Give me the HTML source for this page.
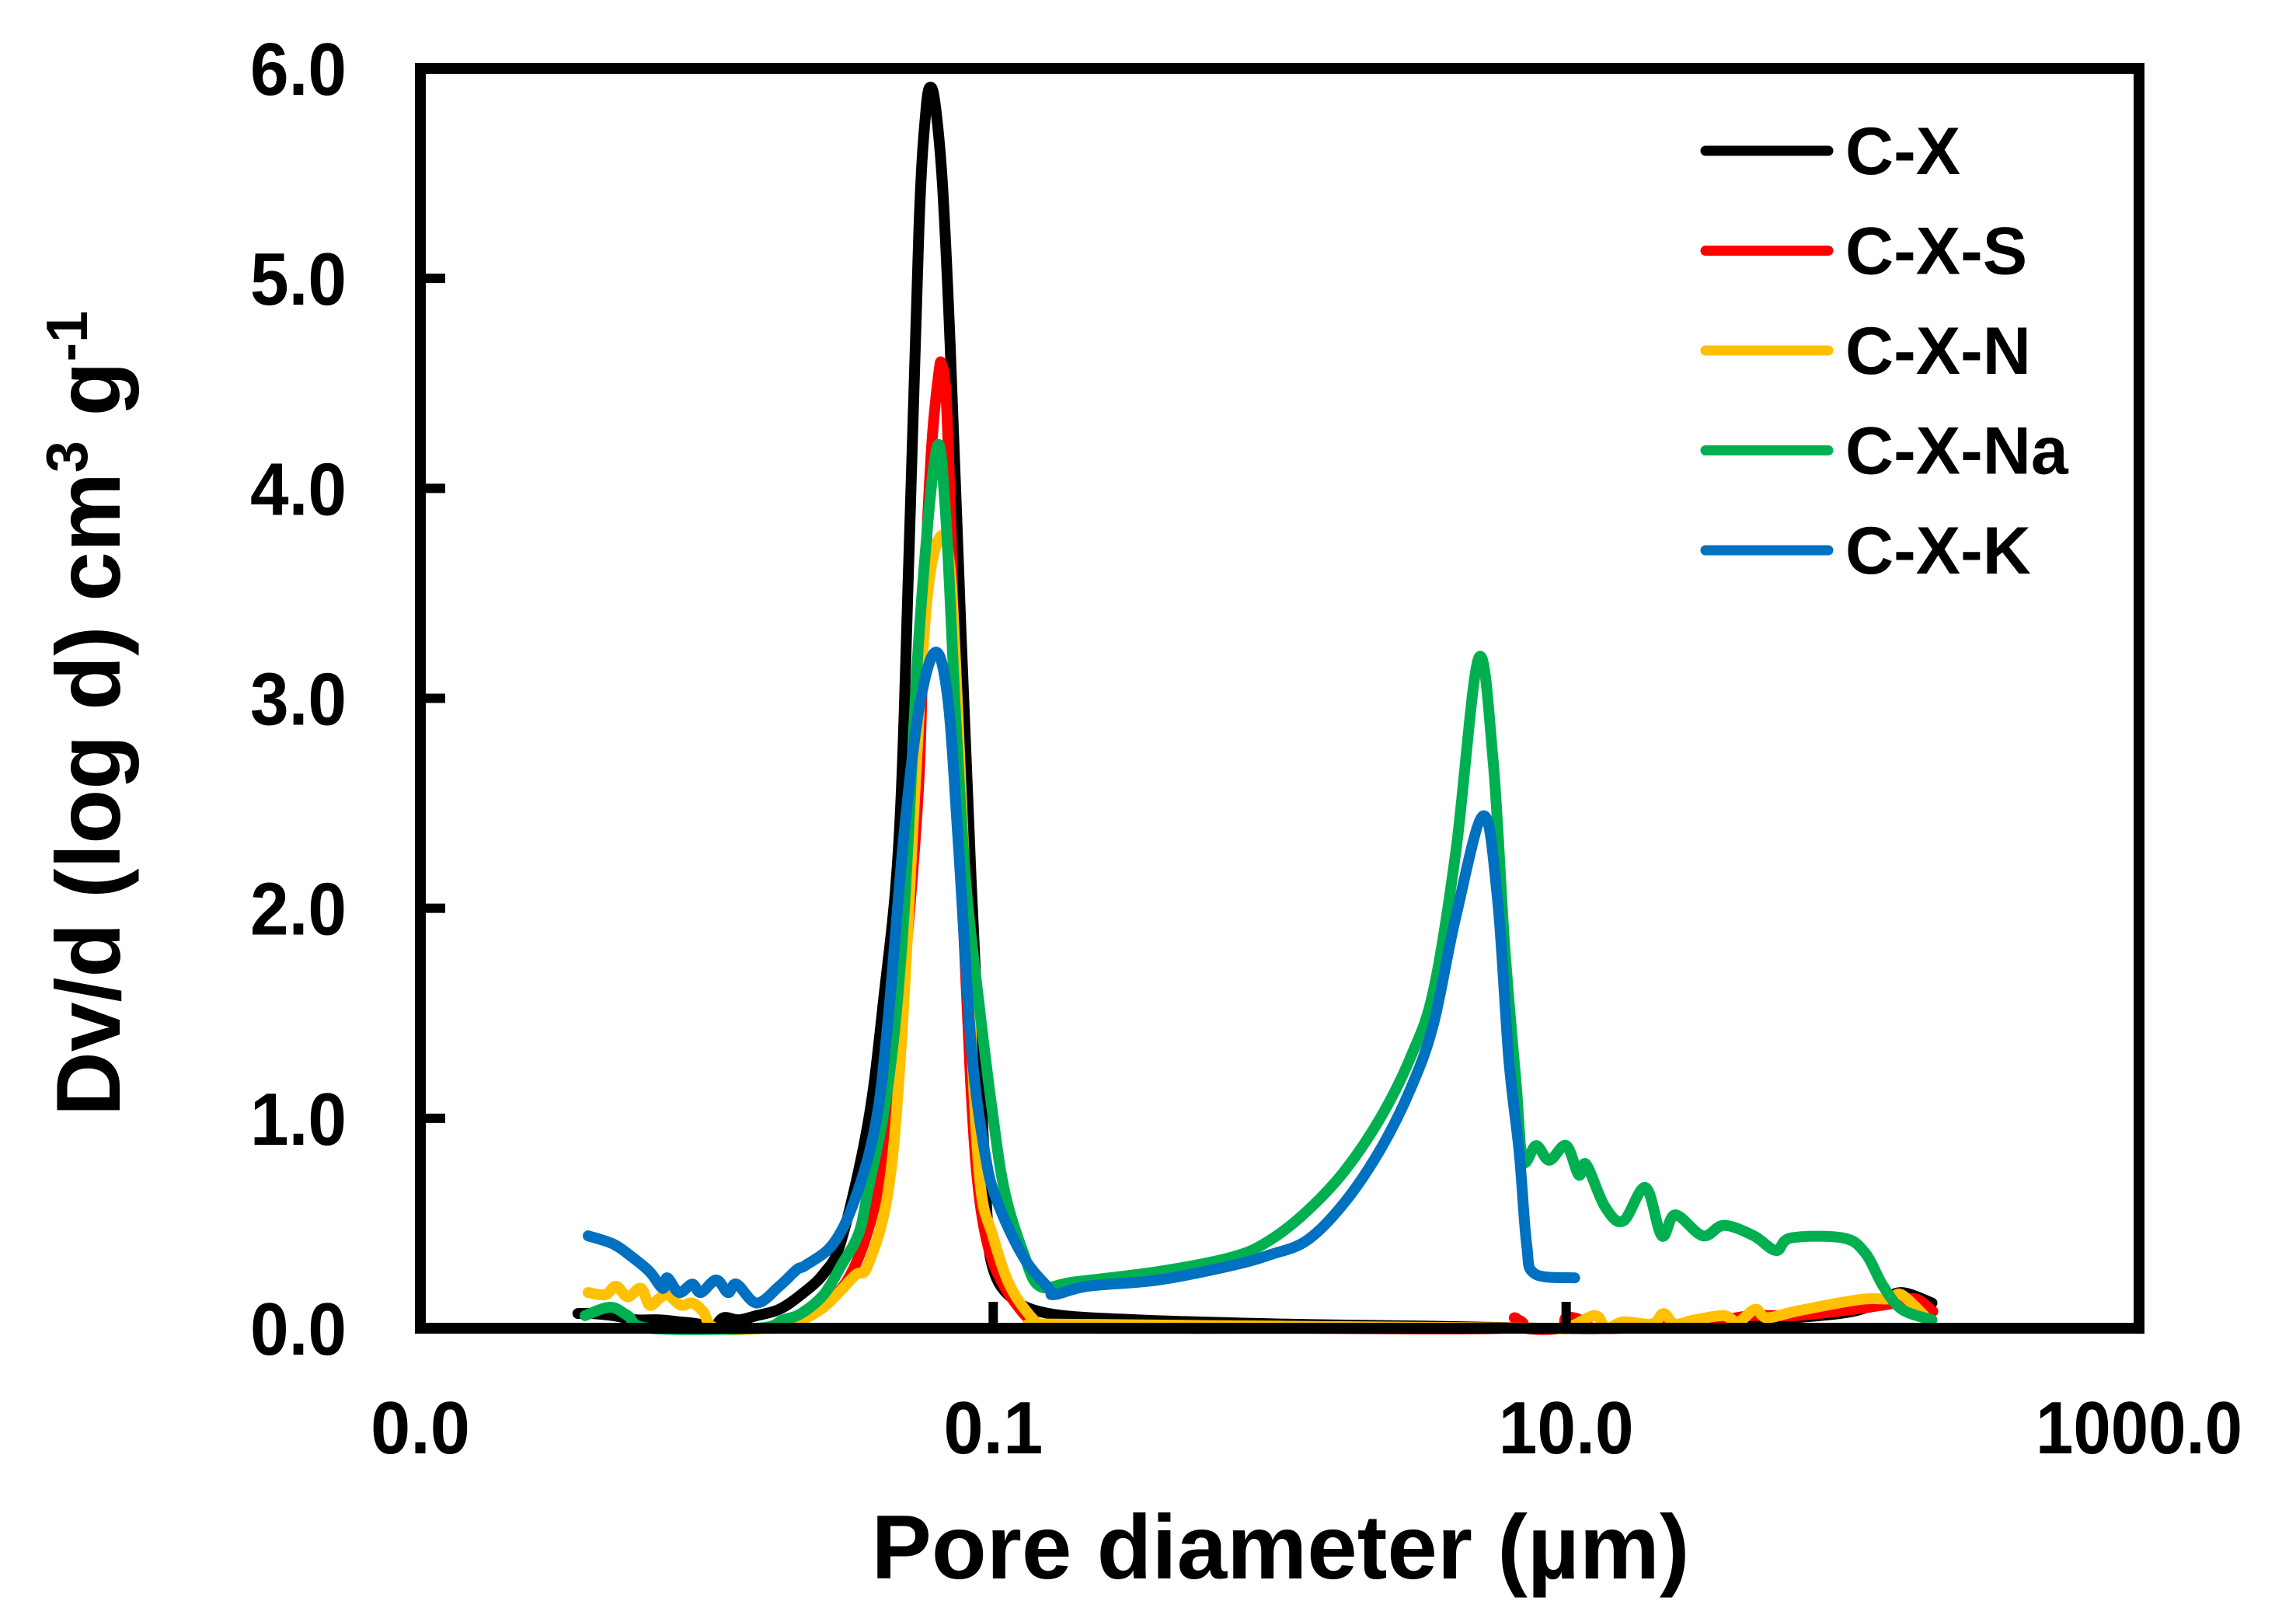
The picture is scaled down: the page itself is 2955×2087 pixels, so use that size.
<!DOCTYPE html>
<html><head><meta charset="utf-8"><style>
html,body{margin:0;padding:0;background:#fff;}
svg{display:block;font-family:"Liberation Sans",Arial,sans-serif;font-weight:bold;}
</style></head><body>
<svg id="chart" width="2955" height="2087" viewBox="0 0 2955 2087" xmlns="http://www.w3.org/2000/svg">
<rect x="0" y="0" width="2955" height="2087" fill="#fff"/>
<g id="series"></g>
<g id="axes"></g>
<text x="1648" y="2031" font-size="117" text-anchor="middle" textLength="1053" lengthAdjust="spacingAndGlyphs">Pore diameter (µm)</text>
<text transform="translate(154,918) rotate(-90)" font-size="117" text-anchor="middle" textLength="1036" lengthAdjust="spacingAndGlyphs">Dv/d (log d) cm<tspan font-size="75" dy="-42">3</tspan><tspan dy="42"> g</tspan><tspan font-size="75" dy="-42">-1</tspan></text>
<g id="legend"></g>
</svg>
<script>
// axis: x is log10 of pore diameter (µm), y is Dv/d(log d)
const xTickValues = [0.001, 0.1, 10, 1000];
const xTickLabels = ["0.0", "0.1", "10.0", "1000.0"];
const yTickValues = [0, 1, 2, 3, 4, 5, 6];
const yTickLabels = ["0.0", "1.0", "2.0", "3.0", "4.0", "5.0", "6.0"];
const seriesNames = ["C-X", "C-X-S", "C-X-N", "C-X-Na", "C-X-K"];
const seriesColors = ["#000000", "#ff0000", "#ffc000", "#00b050", "#0070c0"];
// points: [log10(d in µm), value]
const cxData = [[-2.45,0.07],[-2.40,0.07],[-2.325,0.06],[-2.246,0.04],[-2.167,0.04],[-2.091,0.03],[-2.029,0.02],[-1.98,0.0],[-1.942,0.05],[-1.888,0.04],[-1.826,0.06],[-1.747,0.09],[-1.671,0.16],[-1.592,0.26],[-1.53,0.42],[-1.438,0.97],[-1.384,1.55],[-1.329,2.33],[-1.294,3.69],[-1.259,5.25],[-1.235,5.8],[-1.218,5.91],[-1.20,5.8],[-1.177,5.44],[-1.15,4.67],[-1.112,3.30],[-1.077,2.13],[-1.05,1.35],[-1.023,0.57],[-1.004,0.3],[-0.94,0.15],[-0.806,0.07],[-0.5,0.04],[0.0,0.02],[0.5,0.01],[0.9,0.0],[1.2,0.0],[1.5,0.02],[1.8,0.05],[2.0,0.08],[2.1,0.13],[2.172,0.17],[2.277,0.12]];
const cxsData = [[-2.43,0.0],[-2.2,0.0],[-2.0,0.0],[-1.8,0.0],[-1.7,0.03],[-1.6,0.1],[-1.5,0.25],[-1.42,0.55],[-1.36,1.0],[-1.31,1.7],[-1.26,2.6],[-1.24,3.5],[-1.215,4.2],[-1.19,4.55],[-1.18,4.59],[-1.165,4.45],[-1.15,3.9],[-1.13,2.95],[-1.105,1.95],[-1.08,1.2],[-1.055,0.7],[-1.02,0.4],[-0.97,0.22],[-0.9,0.08],[-0.85,0.02],[-0.8,0.0],[0.0,0.0],[0.78,0.0],[0.82,0.05],[0.86,0.0],[0.98,0.0],[1.0,0.05],[1.05,0.04],[1.1,0.0],[1.3,0.01],[1.5,0.03],[1.65,0.06],[1.8,0.06],[2.0,0.09],[2.15,0.12],[2.22,0.14],[2.28,0.08]];
const cxnData = [[-2.414,0.17],[-2.354,0.16],[-2.317,0.20],[-2.276,0.15],[-2.23,0.19],[-2.2,0.11],[-2.167,0.14],[-2.138,0.16],[-2.091,0.11],[-2.051,0.12],[-2.013,0.08],[-1.967,0.0],[-1.779,0.0],[-1.701,0.02],[-1.592,0.1],[-1.484,0.25],[-1.438,0.30],[-1.367,0.65],[-1.321,1.35],[-1.275,2.52],[-1.232,3.46],[-1.185,3.77],[-1.15,3.61],[-1.123,2.91],[-1.096,2.05],[-1.069,1.16],[-1.042,0.65],[-1.004,0.45],[-0.941,0.2],[-0.852,0.03],[-0.81,0.02],[0.0,0.01],[0.9,0.0],[1.0,0.0],[1.1,0.06],[1.14,0.0],[1.2,0.03],[1.3,0.02],[1.34,0.07],[1.38,0.02],[1.45,0.04],[1.55,0.06],[1.6,0.03],[1.66,0.09],[1.7,0.05],[1.8,0.08],[1.95,0.12],[2.05,0.14],[2.13,0.14],[2.17,0.16],[2.25,0.06]];
const cxnaData = [[-2.425,0.06],[-2.338,0.10],[-2.276,0.06],[-2.2,0.0],[-1.826,0.0],[-1.733,0.04],[-1.671,0.07],[-1.592,0.16],[-1.53,0.30],[-1.47,0.45],[-1.438,0.65],[-1.367,1.16],[-1.313,1.94],[-1.259,3.30],[-1.199,4.18],[-1.167,3.89],[-1.131,2.91],[-1.096,2.13],[-1.05,1.55],[-1.004,1.04],[-0.96,0.65],[-0.895,0.36],[-0.838,0.20],[-0.72,0.22],[-0.423,0.27],[-0.163,0.34],[-0.033,0.42],[0.097,0.56],[0.227,0.75],[0.355,1.01],[0.46,1.30],[0.537,1.61],[0.615,2.27],[0.694,3.19],[0.745,2.70],[0.785,1.83],[0.825,1.17],[0.849,0.80],[0.895,0.87],[0.941,0.80],[1.0,0.87],[1.044,0.73],[1.07,0.78],[1.135,0.58],[1.199,0.51],[1.277,0.67],[1.334,0.44],[1.381,0.54],[1.477,0.44],[1.551,0.49],[1.655,0.44],[1.733,0.37],[1.785,0.43],[1.966,0.43],[2.043,0.36],[2.107,0.20],[2.172,0.09],[2.277,0.04]];
const cxkData = [[-2.414,0.44],[-2.325,0.40],[-2.262,0.34],[-2.2,0.27],[-2.154,0.19],[-2.138,0.24],[-2.097,0.17],[-2.051,0.21],[-2.021,0.17],[-1.967,0.23],[-1.926,0.17],[-1.896,0.21],[-1.826,0.12],[-1.747,0.20],[-1.685,0.28],[-1.655,0.30],[-1.56,0.40],[-1.484,0.61],[-1.411,0.97],[-1.367,1.47],[-1.313,2.33],[-1.259,2.95],[-1.202,3.22],[-1.158,2.99],[-1.123,2.33],[-1.077,1.35],[-1.031,0.85],[-0.988,0.61],[-0.895,0.34],[-0.806,0.19],[-0.787,0.16],[-0.67,0.20],[-0.423,0.23],[-0.163,0.30],[-0.033,0.35],[0.097,0.42],[0.227,0.60],[0.355,0.86],[0.46,1.15],[0.537,1.45],[0.615,1.96],[0.71,2.44],[0.76,2.05],[0.8,1.28],[0.836,0.84],[0.862,0.40],[0.89,0.26],[1.03,0.24]];
const allSeries = [cxData, cxsData, cxnData, cxnaData, cxkData];

const L = 541, R = 2753, T = 88, B = 1709;
const xMin = -3, xMax = 3, yMin = 0, yMax = 6;
function xScale(logv){ return L + (logv - xMin) / (xMax - xMin) * (R - L); }
function yScale(v){ return B - (v - yMin) / (yMax - yMin) * (B - T); }
const NS = "http://www.w3.org/2000/svg";
function mk(tag){ return document.createElementNS(NS, tag); }
function smoothPath(pts){
  let d = 'M' + pts[0][0].toFixed(1) + ',' + pts[0][1].toFixed(1);
  for (let i = 0; i < pts.length - 1; i++) {
    const p0 = pts[Math.max(0, i - 1)], p1 = pts[i], p2 = pts[i + 1], p3 = pts[Math.min(pts.length - 1, i + 2)];
    const t = 0.17;
    const c1x = p1[0] + (p2[0] - p0[0]) * t, c1y = p1[1] + (p2[1] - p0[1]) * t;
    const c2x = p2[0] - (p3[0] - p1[0]) * t, c2y = p2[1] - (p3[1] - p1[1]) * t;
    d += ' C' + c1x.toFixed(1) + ',' + c1y.toFixed(1) + ' ' + c2x.toFixed(1) + ',' + c2y.toFixed(1) + ' ' + p2[0].toFixed(1) + ',' + p2[1].toFixed(1);
  }
  return d;
}

const sg = document.getElementById('series');
allSeries.forEach((data, i) => {
  const pts = data.map(p => [xScale(p[0]), yScale(p[1])]);
  const pl = mk('path');
  pl.setAttribute('d', smoothPath(pts));
  pl.setAttribute('fill', 'none');
  pl.setAttribute('stroke', seriesColors[i]);
  pl.setAttribute('stroke-width', '14');
  pl.setAttribute('stroke-linejoin', 'round');
  pl.setAttribute('stroke-linecap', 'round');
  
  
  sg.appendChild(pl);
});

const ag = document.getElementById('axes');
const frame = mk('rect');
frame.setAttribute('x', L); frame.setAttribute('y', T);
frame.setAttribute('width', R - L); frame.setAttribute('height', B - T);
frame.setAttribute('fill', 'none'); frame.setAttribute('stroke', '#000'); frame.setAttribute('stroke-width', '14');


ag.appendChild(frame);

yTickValues.forEach((v, i) => {
  const y = yScale(v);
  const t = mk('line');
  t.setAttribute('x1', L); t.setAttribute('x2', L + 32); t.setAttribute('y1', y); t.setAttribute('y2', y);
  t.setAttribute('stroke', '#000'); t.setAttribute('stroke-width', '12');
  
  
  ag.appendChild(t);
  const tx = mk('text');
  tx.setAttribute('x', 446); tx.setAttribute('y', y + 34);
  tx.setAttribute('font-size', '96'); tx.setAttribute('text-anchor', 'end');
  tx.setAttribute('textLength', '124'); tx.setAttribute('lengthAdjust', 'spacingAndGlyphs');
  tx.textContent = yTickLabels[i];
  
  
  ag.appendChild(tx);
});

xTickValues.forEach((v, i) => {
  const x = xScale(Math.log10(v));
  const t = mk('line');
  t.setAttribute('x1', x); t.setAttribute('x2', x); t.setAttribute('y1', B); t.setAttribute('y2', B - 34);
  t.setAttribute('stroke', '#000'); t.setAttribute('stroke-width', '12');
  
  
  ag.appendChild(t);
  const tx = mk('text');
  tx.setAttribute('x', x); tx.setAttribute('y', 1870);
  tx.setAttribute('font-size', '96'); tx.setAttribute('text-anchor', 'middle');
  tx.setAttribute('textLength', String(xTickLabels[i].length * 46 - 10));
  tx.setAttribute('lengthAdjust', 'spacingAndGlyphs');
  tx.textContent = xTickLabels[i];
  
  
  ag.appendChild(tx);
});

const lg = document.getElementById('legend');
seriesNames.forEach((n, i) => {
  const y = 194 + i * 128.5;
  const ln = mk('line');
  ln.setAttribute('x1', 2195); ln.setAttribute('x2', 2353); ln.setAttribute('y1', y); ln.setAttribute('y2', y);
  ln.setAttribute('stroke', seriesColors[i]); ln.setAttribute('stroke-width', '13'); ln.setAttribute('stroke-linecap', 'round');
  
  
  lg.appendChild(ln);
  const tx = mk('text');
  tx.setAttribute('x', 2375); tx.setAttribute('y', y + 30);
  tx.setAttribute('font-size', '86');
  tx.textContent = n;
  
  
  lg.appendChild(tx);
});
</script>
</body></html>
